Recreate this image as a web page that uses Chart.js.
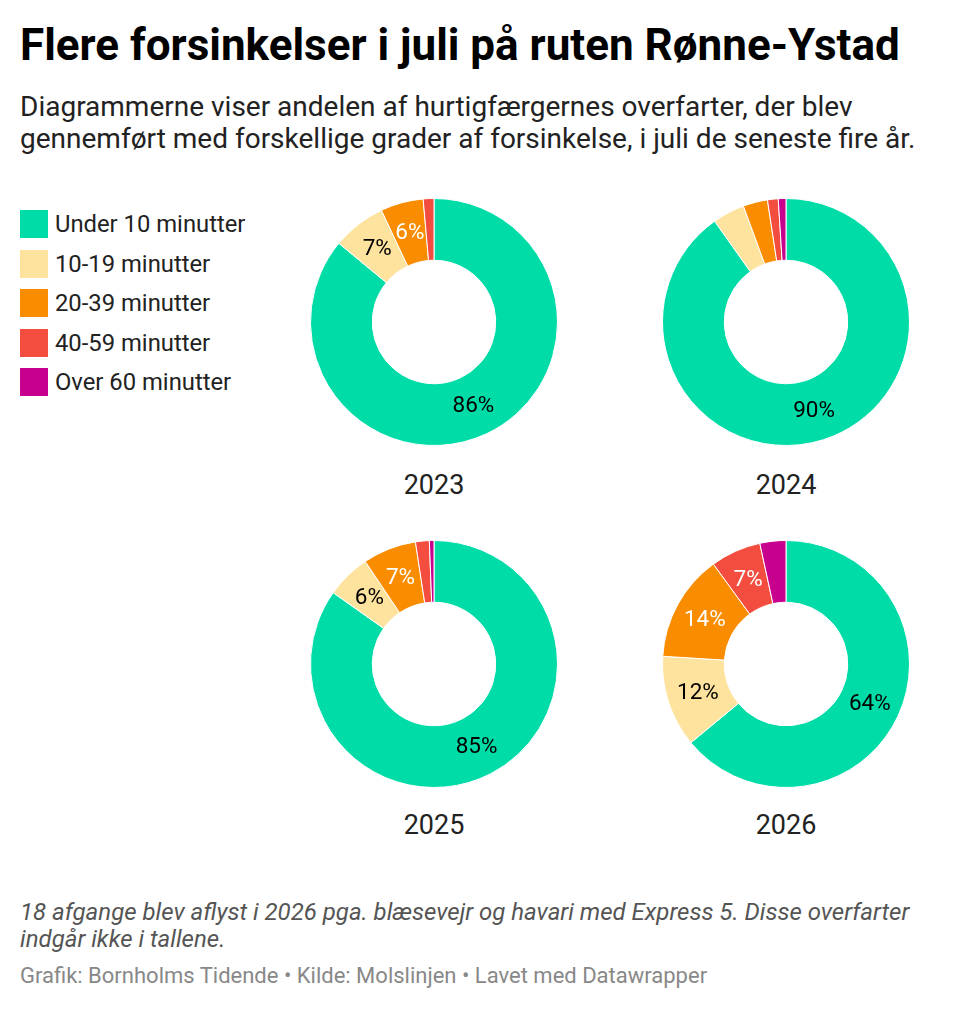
<!DOCTYPE html>
<html>
<head>
<meta charset="utf-8">
<script src="https://cdn.jsdelivr.net/npm/chart.js@4"></script>
<style>
  html, body { margin:0; padding:0; background:#fff; }
  body { width:972px; height:1012px; position:relative; font-family: Roboto, "Noto Sans", sans-serif; overflow:hidden; }
  .title { position:absolute; left:20px; top:23px; font-size:44px; line-height:44px; font-weight:700; color:#000; white-space:nowrap; }
  .sub { position:absolute; left:20px; top:91px; font-size:28px; line-height:32px; color:#222; width:935px; }
  .legend { position:absolute; left:20px; top:210px; }
  .li { display:flex; align-items:center; height:28px; margin-bottom:11.5px; font-size:23.8px; color:#222; }
  .sw { width:28px; height:28px; margin-right:7px; flex:none; }
  .box { position:absolute; width:248px; height:248px; }
  .yr { position:absolute; width:248px; text-align:center; font-size:27px; line-height:30px; color:#222; }
  .note { position:absolute; left:20px; top:899px; font-size:24px; line-height:27px; color:#555; font-style:italic; width:935px; }
  .cred { position:absolute; left:20px; top:963px; font-size:22px; color:#888; white-space:nowrap; }
</style>
</head>
<body>
<div class="title">Flere forsinkelser i juli på ruten Rønne-Ystad</div>
<div class="sub">Diagrammerne viser andelen af hurtigfærgernes overfarter, der blev gennemført med forskellige grader af forsinkelse, i juli de seneste fire år.</div>
<div class="legend" id="legend"></div>

<div class="box" style="left:310px;top:198px"><canvas id="c0" width="248" height="248"></canvas></div>
<div class="box" style="left:662px;top:198px"><canvas id="c1" width="248" height="248"></canvas></div>
<div class="box" style="left:310px;top:540px"><canvas id="c2" width="248" height="248"></canvas></div>
<div class="box" style="left:662px;top:540px"><canvas id="c3" width="248" height="248"></canvas></div>

<div class="yr" id="y0" style="left:310px;top:470px"></div>
<div class="yr" id="y1" style="left:662px;top:470px"></div>
<div class="yr" id="y2" style="left:310px;top:810px"></div>
<div class="yr" id="y3" style="left:662px;top:810px"></div>

<div class="note">18 afgange blev aflyst i 2026 pga. blæsevejr og havari med Express 5. Disse overfarter indgår ikke i tallene.</div>
<div class="cred">Grafik: Bornholms Tidende • Kilde: Molslinjen • Lavet med Datawrapper</div>

<script>
const categories = ['Under 10 minutter', '10-19 minutter', '20-39 minutter', '40-59 minutter', 'Over 60 minutter'];
const years = ['2023', '2024', '2025', '2026'];
const values2023 = [86, 7, 5.6, 1.4, 0];
const values2024 = [90.2, 4.2, 3.2, 1.4, 1.0];
const values2025 = [84.8, 5.8, 7, 1.8, 0.6];
const values2026 = [64, 12, 14, 6.6, 3.4];
const colors = ['#00dca8', '#fee39f', '#fa8c00', '#f24d3e', '#c7008d'];
const labelColors = ['#000', '#000', '#fff', '#fff', '#fff'];
const allValues = [values2023, values2024, values2025, values2026];

const legend = document.getElementById('legend');
categories.forEach((c, i) => {
  const d = document.createElement('div');
  d.className = 'li';
  d.innerHTML = '<span class="sw" style="background:' + colors[i] + '"></span><span>' + c + '</span>';
  legend.appendChild(d);
});

const labelPlugin = {
  id: 'sliceLabels',
  afterDatasetsDraw(chart) {
    const ctx = chart.ctx;
    const meta = chart.getDatasetMeta(0);
    const data = chart.data.datasets[0].data;
    ctx.save();
    ctx.font = '22.5px Roboto, "Noto Sans", sans-serif';
    ctx.textAlign = 'center';
    ctx.textBaseline = 'middle';
    meta.data.forEach((arc, i) => {
      const v = data[i];
      if (v < 5) return;
      const p = arc.tooltipPosition();
      ctx.fillStyle = labelColors[i];
      ctx.fillText(Math.round(v) + '%', p.x, p.y + 1);
    });
    ctx.restore();
  }
};

years.forEach((y, k) => {
  document.getElementById('y' + k).textContent = y;
  new Chart(document.getElementById('c' + k), {
    type: 'doughnut',
    data: {
      labels: categories,
      datasets: [{
        data: allValues[k],
        backgroundColor: colors,
        borderColor: '#fff',
        borderWidth: 1
      }]
    },
    options: {
      responsive: false,
      animation: false,
      cutout: '50%',
      layout: { padding: 0 },
      plugins: { legend: { display: false }, tooltip: { enabled: false } }
    },
    plugins: [labelPlugin]
  });
});
</script>
</body>
</html>
